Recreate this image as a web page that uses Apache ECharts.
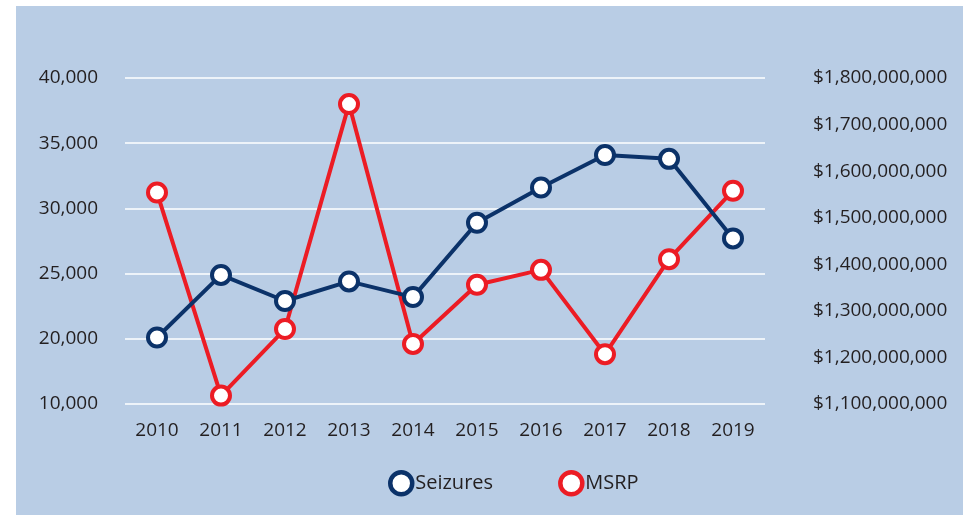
<!DOCTYPE html>
<html>
<head>
<meta charset="utf-8">
<script src="https://cdn.jsdelivr.net/npm/echarts@6/dist/echarts.min.js"></script>
<style>
  html, body { margin: 0; padding: 0; background: #ffffff; }
  #chart { position: absolute; left: 16px; top: 6px; width: 947px; height: 509px; }
</style>
</head>
<body>
<div id="chart"></div>
<script>
// data
var years = ["2010", "2011", "2012", "2013", "2014", "2015", "2016", "2017", "2018", "2019"];
var seizures = [20100, 24900, 22900, 24400, 23200, 28900, 31600, 34100, 33800, 27700];
var msrp = [1554000000, 1118000000, 1261000000, 1744000000, 1229000000,
            1356000000, 1388000000, 1207000000, 1411000000, 1558000000];
var leftTicks = ["10,000", "20,000", "25,000", "30,000", "35,000", "40,000"];
var rightTicks = ["$1,100,000,000", "$1,200,000,000", "$1,300,000,000", "$1,400,000,000",
                  "$1,500,000,000", "$1,600,000,000", "$1,700,000,000", "$1,800,000,000"];

var navy = "#0b3269";
var red = "#ec1c24";
var font = "Open Sans";
var textColor = "#231f20";

var chart = echarts.init(document.getElementById("chart"));
chart.setOption({
  animation: false,
  backgroundColor: "#b9cde5",
  textStyle: { fontFamily: font },
  grid: { left: 109, right: 198, top: 72, bottom: 111 },
  legend: {
    left: 367,
    top: 459,
    icon: "circle",
    itemWidth: 22,
    itemHeight: 22,
    itemGap: 65,
    itemStyle: { borderWidth: 4.5 },
    textStyle: { fontFamily: font, fontSize: 20, color: textColor, padding: [0, 0, 0, -2] },
    data: ["Seizures", "MSRP"]
  },
  xAxis: {
    type: "category",
    data: years,
    axisLine: { show: false },
    axisTick: { show: false },
    axisLabel: { fontFamily: font, fontSize: 19, color: textColor, margin: 17 }
  },
  yAxis: [
    {
      type: "value",
      min: 15000,
      max: 40000,
      interval: 5000,
      axisLine: { show: false },
      axisTick: { show: false },
      splitLine: { lineStyle: { color: "#ffffff", width: 1.5 } },
      axisLabel: {
        fontFamily: font, fontSize: 19, color: textColor, margin: 27,
        padding: [0, 0, 5, 0],
        formatter: function (v, i) { return leftTicks[i]; }
      }
    },
    {
      type: "value",
      min: 1100000000,
      max: 1800000000,
      interval: 100000000,
      axisLine: { show: false },
      axisTick: { show: false },
      splitLine: { show: false },
      axisLabel: {
        fontFamily: font, fontSize: 19, color: textColor, margin: 48,
        padding: [0, 0, 5, 0],
        formatter: function (v, i) { return rightTicks[i]; }
      }
    }
  ],
  series: [
    {
      name: "Seizures",
      type: "line",
      yAxisIndex: 0,
      data: seizures,
      symbol: "circle",
      symbolSize: 18,
      lineStyle: { color: navy, width: 4 },
      itemStyle: { color: "#ffffff", borderColor: navy, borderWidth: 4 },
      z: 3
    },
    {
      name: "MSRP",
      type: "line",
      yAxisIndex: 1,
      data: msrp,
      symbol: "circle",
      symbolSize: 18,
      lineStyle: { color: red, width: 4 },
      itemStyle: { color: "#ffffff", borderColor: red, borderWidth: 4 },
      z: 2
    }
  ]
});
</script>
</body>
</html>
